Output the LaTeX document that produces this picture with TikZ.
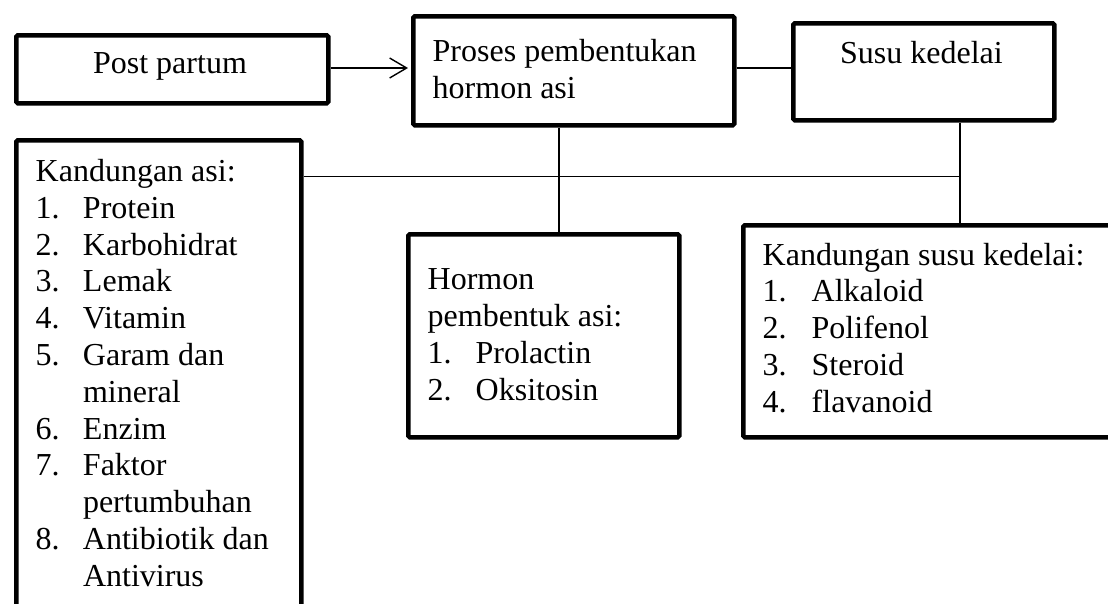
\documentclass[tikz,border=0pt]{standalone}
\usepackage{fontspec}
\setmainfont{Liberation Serif}
\usetikzlibrary{arrows.meta}
\newcommand{\numitem}[3]{\makebox[#1][l]{#2}#3}
\tikzset{
  boxnode/.style={draw, line width=4.5pt, rounded corners=1.5pt, rectangle, inner sep=0pt, anchor=north west},
  txt/.style={font=\fontsize{32}{36.8}\selectfont, inner sep=0pt, align=left},
  conn/.style={line width=1.3pt},
  arrowconn/.style={line width=1.4pt, -{Straight Barb[length=17pt,width=20pt,line width=1.4pt]}, shorten >=3pt}
}
\begin{document}
\begin{tikzpicture}[x=1pt,y=-1pt]
\useasboundingbox (0,0) rectangle (1108,603);
\fill[white] (0,0) rectangle (1108,603);
\clip (0,0) rectangle (1108,603);

% boxes
\node[boxnode, minimum width=312pt, minimum height=68pt] (pp) at (14,33) {};
\node[boxnode, minimum width=321pt, minimum height=109pt] (proses) at (411,14) {};
\node[boxnode, minimum width=261pt, minimum height=97pt] (susu) at (791,21) {};
\node[boxnode, minimum width=285pt, minimum height=520pt] (kasi) at (14,138) {};
\node[boxnode, minimum width=271pt, minimum height=203pt] (hormon) at (406,232) {};
\node[boxnode, minimum width=390pt, minimum height=212pt] (ksusu) at (741,223) {};

% texts (anchor = baseline of the last line)
\node[txt, anchor=base] (pptext) at (170,73) {Post partum};
\node[txt, anchor=base west] (prosestext) at (432.5,98.6) {Proses pembentukan\\hormon asi};
\node[txt, anchor=base] (susutext) at (921.5,63) {Susu kedelai};
\node[txt, anchor=base west] (kasitext) at (35.5,586.3) {Kandungan asi:\\
\numitem{47.3pt}{1.}{Protein}\\
\numitem{47.3pt}{2.}{Karbohidrat}\\
\numitem{47.3pt}{3.}{Lemak}\\
\numitem{47.3pt}{4.}{Vitamin}\\
\numitem{47.3pt}{5.}{Garam dan}\\
\hspace*{47.3pt}mineral\\
\numitem{47.3pt}{6.}{Enzim}\\
\numitem{47.3pt}{7.}{Faktor}\\
\hspace*{47.3pt}pertumbuhan\\
\numitem{47.3pt}{8.}{Antibiotik dan}\\
\hspace*{47.3pt}Antivirus};
\node[txt, anchor=base west] (hormontext) at (427.5,400.2) {Hormon\\pembentuk asi:\\
\numitem{48pt}{1.}{Prolactin}\\
\numitem{48pt}{2.}{Oksitosin}};
\node[txt, anchor=base west] (ksusutext) at (762.5,412.2) {Kandungan susu kedelai:\\
\numitem{49pt}{1.}{Alkaloid}\\
\numitem{49pt}{2.}{Polifenol}\\
\numitem{49pt}{3.}{Steroid}\\
\numitem{49pt}{4.}{flavanoid}};

% connectors
\coordinate (v1) at (559,0);
\coordinate (v2) at (960,0);
\coordinate (hl) at (0,176.5);
\coordinate (al) at (0,68);
\draw[arrowconn] (pp.east |- al) -- (proses.west |- al);
\draw[conn] (proses.east |- al) -- (susu.west |- al);
\draw[conn] (v1 |- proses.south) -- (v1 |- hormon.north);
\draw[conn] (v2 |- susu.south) -- (v2 |- ksusu.north);
\draw[conn] (kasi.east |- hl) -- (v2 |- hl);
\end{tikzpicture}
\end{document}
